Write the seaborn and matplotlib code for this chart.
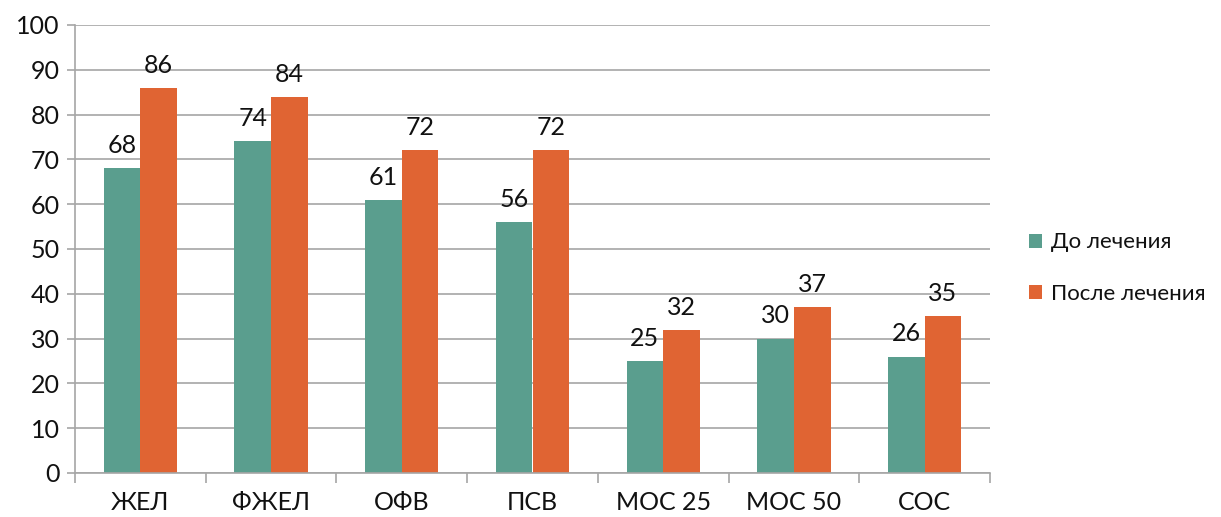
import matplotlib
matplotlib.use("Agg")
import matplotlib.pyplot as plt
import seaborn as sns
import pandas as pd

categories = ["ЖЕЛ", "ФЖЕЛ", "ОФВ", "ПСВ", "МОС 25", "МОС 50", "СОС"]
series_names = ["До лечения", "После лечения"]
before = [68, 74, 61, 56, 25, 30, 26]
after = [86, 84, 72, 72, 32, 37, 35]
y_ticks = [0, 10, 20, 30, 40, 50, 60, 70, 80, 90, 100]

df = pd.DataFrame({
    "cat": categories * 2,
    "series": [series_names[0]] * len(categories) + [series_names[1]] * len(categories),
    "value": before + after,
})

sns.set_theme(style="white")
plt.rcParams["font.family"] = ["Lato", "DejaVu Sans"]

fig = plt.figure(figsize=(12.21, 5.17), dpi=100)
ax = fig.add_axes([75 / 1221, 1 - 473 / 517, (990 - 75) / 1221, (473 - 25) / 517])

palette = {series_names[0]: "#5A9E8E", series_names[1]: "#E06433"}
sns.barplot(data=df, x="cat", y="value", hue="series", palette=palette,
            width=0.56, gap=0, saturation=1, ax=ax, legend=True, linewidth=0)

for cont in ax.containers:
    ax.bar_label(cont, padding=8, fontsize=18, color="#111111")

ax.set_ylim(0, 100)
ax.set_xlim(-0.5, len(categories) - 0.5)
ax.set_yticks(y_ticks)
ax.yaxis.grid(True, color="#A6A6A6", linewidth=1.2)
ax.set_axisbelow(True)
ax.set_xlabel("")
ax.set_ylabel("")

for s in ["top", "right"]:
    ax.spines[s].set_visible(False)
for s in ["left", "bottom"]:
    ax.spines[s].set_color("#A6A6A6")
    ax.spines[s].set_linewidth(1.2)

ax.tick_params(axis="y", which="major", left=True, length=6, width=1.2,
               color="#A6A6A6", labelsize=18, labelcolor="#111111", pad=5)
ax.tick_params(axis="x", which="major", bottom=False, length=0,
               labelsize=18, labelcolor="#111111", pad=13)
ax.set_xticks([i - 0.5 for i in range(len(categories) + 1)], minor=True)
ax.tick_params(axis="x", which="minor", bottom=True, length=7, width=1.2,
               color="#A6A6A6")

handles, labels = ax.get_legend_handles_labels()
ax.get_legend().remove()
fig.legend(handles, labels, loc="center left",
           bbox_to_anchor=(1029 / 1221, 1 - 268 / 517), frameon=False,
           borderpad=0, borderaxespad=0,
           fontsize=16, handlelength=0.6, handleheight=0.6,
           handletextpad=0.4, labelspacing=1.4, labelcolor="#111111")

fig.savefig("out.png", dpi=100)
